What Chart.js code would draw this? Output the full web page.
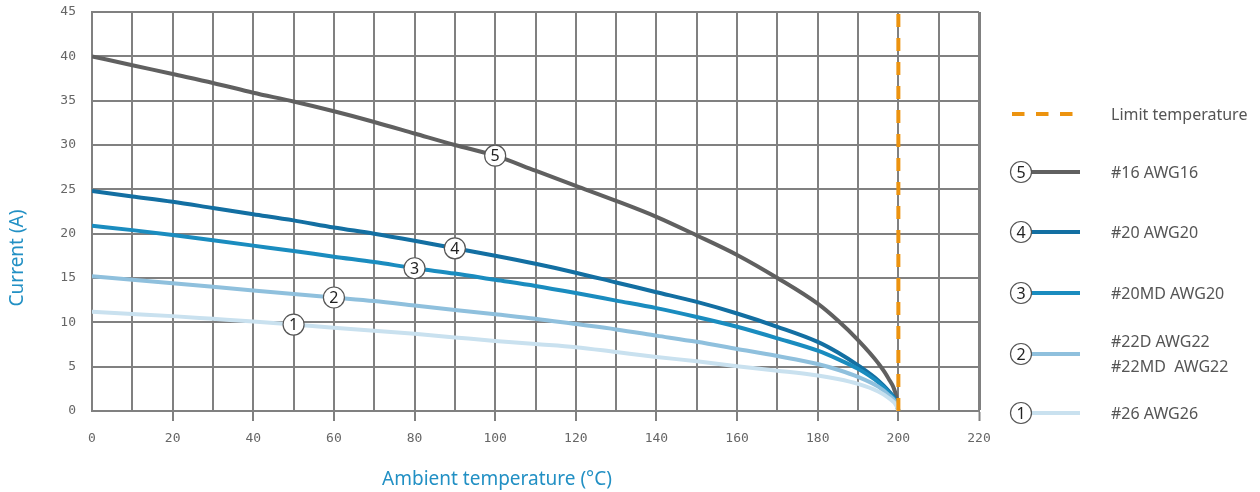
<!DOCTYPE html>
<html>
<head>
<meta charset="utf-8">
<script src="https://cdn.jsdelivr.net/npm/chart.js@4"></script>
<style>
  html, body { margin: 0; padding: 0; background: #fff; }
  #wrap { position: relative; width: 1260px; height: 492px; }
</style>
</head>
<body>
<div id="wrap"><canvas id="chart" width="1260" height="492"></canvas></div>
<script>
// ambient temperature (°C)
var temps = [0, 10, 20, 30, 40, 50, 60, 70, 80, 90, 100, 110, 120, 130, 140, 150, 160, 170, 180, 185, 190, 195, 197.5, 199.5, 200];

// current (A) per wire size
var awg26   = [11.2, 10.95, 10.7, 10.4, 10.1, 9.75, 9.4, 9.05, 8.7, 8.3, 7.9, 7.55, 7.2, 6.65, 6.1, 5.6, 5.05, 4.55, 4.0, 3.6, 3.05, 2.2, 1.5, 0.6, 0];
var awg22   = [15.2, 14.8, 14.4, 14.0, 13.6, 13.2, 12.8, 12.4, 11.9, 11.4, 10.9, 10.4, 9.8, 9.2, 8.5, 7.8, 7.0, 6.2, 5.3, 4.65, 3.85, 2.75, 1.85, 0.8, 0];
var awg20md = [20.9, 20.4, 19.85, 19.25, 18.65, 18.05, 17.4, 16.8, 16.1, 15.5, 14.8, 14.1, 13.3, 12.45, 11.6, 10.6, 9.5, 8.2, 6.8, 5.85, 4.75, 3.25, 2.15, 0.9, 0];
var awg20   = [24.8, 24.2, 23.6, 22.9, 22.2, 21.5, 20.7, 20.0, 19.2, 18.35, 17.5, 16.6, 15.6, 14.5, 13.4, 12.3, 11.0, 9.5, 7.8, 6.6, 5.15, 3.45, 2.3, 1.0, 0];
var awg16   = [40.0, 39.0, 38.0, 37.0, 35.9, 34.9, 33.8, 32.6, 31.3, 30.0, 28.8, 27.1, 25.4, 23.7, 21.9, 19.8, 17.6, 15.0, 12.1, 10.2, 8.0, 5.4, 3.7, 1.6, 0];

var limitTemp = 200;

var seriesNames = [['#26 AWG26'], ['#22D AWG22', '#22MD  AWG22'], ['#20MD AWG20'], ['#20 AWG20'], ['#16 AWG16']];
var seriesNums = ['1', '2', '3', '4', '5'];
var seriesData = [awg26, awg22, awg20md, awg20, awg16];
var seriesColors = ['#c9e1ef', '#8fc0dd', '#1a8cbf', '#136fa2', '#606060'];
// temperature where the numbered marker sits on each curve
var markerTemps = [50, 60, 80, 90, 100];

var xTicks = [0, 20, 40, 60, 80, 100, 120, 140, 160, 180, 200, 220];

function toPoints(ys) {
  return temps.map(function (t, i) { return { x: t, y: ys[i] }; });
}

var datasets = [{
  label: 'Limit temperature',
  data: [{ x: limitTemp, y: 0 }, { x: limitTemp, y: 45 }],
  borderColor: '#ec930f',
  borderWidth: 4,
  borderDash: [13, 11],
  pointRadius: 0
}];
seriesData.forEach(function (ys, i) {
  datasets.push({
    label: seriesNames[i].join(' '),
    data: toPoints(ys),
    borderColor: seriesColors[i],
    borderWidth: 4,
    pointRadius: 0,
    cubicInterpolationMode: 'monotone'
  });
});

function drawCircle(ctx, x, y, txt) {
  ctx.save();
  ctx.beginPath();
  ctx.arc(x, y, 10.5, 0, Math.PI * 2);
  ctx.fillStyle = '#fff';
  ctx.fill();
  ctx.lineWidth = 1.2;
  ctx.strokeStyle = '#555';
  ctx.stroke();
  ctx.fillStyle = '#222';
  ctx.font = '16px "Noto Sans"';
  ctx.textAlign = 'center';
  ctx.textBaseline = 'middle';
  ctx.fillText(txt, x, y + 1);
  ctx.restore();
}

var extras = {
  id: 'extras',
  afterDatasetsDraw: function (chart) {
    var ctx = chart.ctx, xs = chart.scales.x, ys = chart.scales.y;
    markerTemps.forEach(function (t, i) {
      var idx = temps.indexOf(t);
      drawCircle(ctx, xs.getPixelForValue(t), ys.getPixelForValue(seriesData[i][idx]), seriesNums[i]);
    });
  },
  afterDraw: function (chart) {
    var ctx = chart.ctx;
    ctx.save();
    // axis titles
    ctx.fillStyle = '#2290c4';
    ctx.font = '19px "Noto Sans"';
    ctx.textAlign = 'center';
    ctx.textBaseline = 'middle';
    ctx.fillText('Ambient temperature (°C)', 497, 480);
    ctx.save();
    ctx.translate(18, 258);
    ctx.rotate(-Math.PI / 2);
    ctx.fillText('Current (A)', 0, 0);
    ctx.restore();

    // legend
    ctx.textAlign = 'left';
    ctx.font = '16px "Noto Sans"';
    ctx.fillStyle = '#555';
    ctx.strokeStyle = '#ec930f';
    ctx.lineWidth = 4;
    ctx.setLineDash([12.5, 11.5]);
    ctx.beginPath();
    ctx.moveTo(1012, 114);
    ctx.lineTo(1073, 114);
    ctx.stroke();
    ctx.setLineDash([]);
    ctx.fillText('Limit temperature', 1111, 115);

    var rows = [413, 354, 293, 232, 172];
    for (var i = 4; i >= 0; i--) {
      var y = rows[i];
      ctx.strokeStyle = seriesColors[i];
      ctx.lineWidth = 4;
      ctx.beginPath();
      ctx.moveTo(1030, y);
      ctx.lineTo(1080, y);
      ctx.stroke();
      drawCircle(ctx, 1021, y, seriesNums[i]);
      ctx.fillStyle = '#555';
      ctx.font = '16px "Noto Sans"';
      ctx.textAlign = 'left';
      ctx.textBaseline = 'middle';
      var lines = seriesNames[i];
      if (lines.length === 1) {
        ctx.fillText(lines[0], 1111, y + 1);
      } else {
        ctx.fillText(lines[0], 1111, y - 12);
        ctx.fillText(lines[1], 1111, y + 13);
      }
    }
    ctx.restore();
  }
};

new Chart(document.getElementById('chart'), {
  type: 'line',
  data: { datasets: datasets },
  options: {
    responsive: false,
    animation: false,
    events: [],
    layout: { padding: { left: 0, top: 12, right: 281, bottom: 0 } },
    plugins: { legend: { display: false }, tooltip: { enabled: false } },
    scales: {
      x: {
        type: 'linear',
        min: 0,
        max: 220,
        afterFit: function (s) { s.height = 81; },
        afterBuildTicks: function (s) {
          s.ticks = [];
          for (var v = 0; v <= 220; v += 10) s.ticks.push({ value: v });
        },
        ticks: {
          autoSkip: false,
          maxRotation: 0,
          padding: 10,
          color: '#666',
          font: { family: '"DejaVu Sans Mono"', size: 13 },
          callback: function (v) { return xTicks.indexOf(v) >= 0 ? String(v) : ''; }
        },
        grid: {
          color: '#808080',
          lineWidth: function (c) { return c.tick && c.tick.value === 220 ? 3 : 2; },
          tickLength: 10,
          tickColor: function (c) {
            return c.tick && c.tick.value > 0 && xTicks.indexOf(c.tick.value) >= 0 ? '#808080' : 'rgba(0,0,0,0)';
          },
          tickWidth: 2
        },
        border: { color: '#808080', width: 2 }
      },
      y: {
        min: 0,
        max: 45,
        afterFit: function (s) {
          s.width = 92;
          s.paddingTop = 0;
          s.paddingBottom = 0;
        },
        ticks: {
          stepSize: 5,
          padding: 16,
          color: '#666',
          font: { family: '"DejaVu Sans Mono"', size: 13 }
        },
        grid: { color: '#808080', lineWidth: 2, drawTicks: false },
        border: { color: '#808080', width: 2 }
      }
    }
  },
  plugins: [extras]
});
</script>
</body>
</html>
